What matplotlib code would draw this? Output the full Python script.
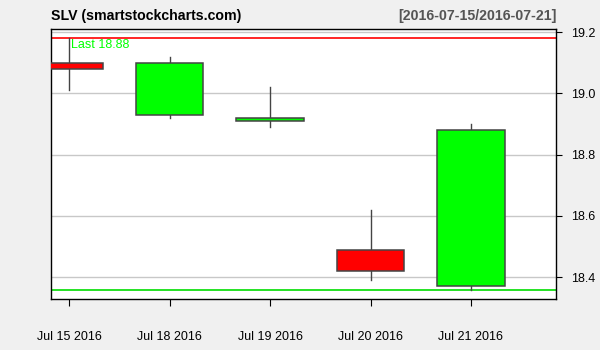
import numpy as np
import matplotlib.pyplot as plt

# SLV daily candles
dates = ["Jul 15 2016", "Jul 18 2016", "Jul 19 2016", "Jul 20 2016", "Jul 21 2016"]
opens = [19.10, 18.93, 18.91, 18.49, 18.37]
highs = [19.18, 19.12, 19.02, 18.62, 18.90]
lows = [19.01, 18.92, 18.89, 18.39, 18.36]
closes = [19.08, 19.10, 18.92, 18.42, 18.88]
yticks = [18.4, 18.6, 18.8, 19.0, 19.2]

plt.rcParams['font.family'] = ['Liberation Sans', 'DejaVu Sans']

fig = plt.figure(figsize=(6, 3.5), dpi=100, facecolor='#f0f0f0')
ax = fig.add_axes([0.0842, 0.1457, 0.8425, 0.7723])
ax.set_facecolor('white')

x = np.arange(len(dates))
for yv in yticks:
    ax.axhline(yv, color='#c8c8c8', lw=1, zorder=0)

# max high / min low lines
ax.axhline(max(highs), color='#ff0000', lw=1.2, zorder=1)
ax.axhline(min(lows), color='#00dd00', lw=1.2, zorder=1)

w = 0.67
for i in x:
    o, h, l, c = opens[i], highs[i], lows[i], closes[i]
    col = '#00ff00' if c >= o else '#ff0000'
    ax.plot([i, i], [l, h], color='#444444', lw=1, zorder=2)
    ax.bar(i, abs(c - o), width=w, bottom=min(o, c), color=col,
           edgecolor='#444444', linewidth=1.1, zorder=3)

ax.text(0.0406, 0.9275, "Last %.2f" % closes[-1], transform=ax.transAxes,
        color='#00ff00', fontsize=9, va='baseline', ha='left', zorder=4)

ax.set_xlim(-0.184, 4.846)
ax.set_ylim(18.329, 19.211)
ax.set_xticks(x)
ax.set_xticklabels(dates, fontsize=9)
ax.set_yticks(yticks)
ax.set_yticklabels(["%.1f" % v for v in yticks], fontsize=9)
ax.yaxis.tick_right()
ax.tick_params(axis='x', length=5, pad=18, color='black')
ax.tick_params(axis='y', length=4.5, pad=6.5, color='black')
for s in ax.spines.values():
    s.set_color('black')
    s.set_linewidth(1)

fig.text(0.085, 0.953, "SLV (smartstockcharts.com)", fontsize=10.2,
         fontweight='bold', ha='left', va='center', color='black')
fig.text(0.927, 0.953, "[2016-07-15/2016-07-21]", fontsize=10.2,
         fontweight='bold', ha='right', va='center', color='#555555')

fig.savefig('out.png', dpi=100, facecolor=fig.get_facecolor())
